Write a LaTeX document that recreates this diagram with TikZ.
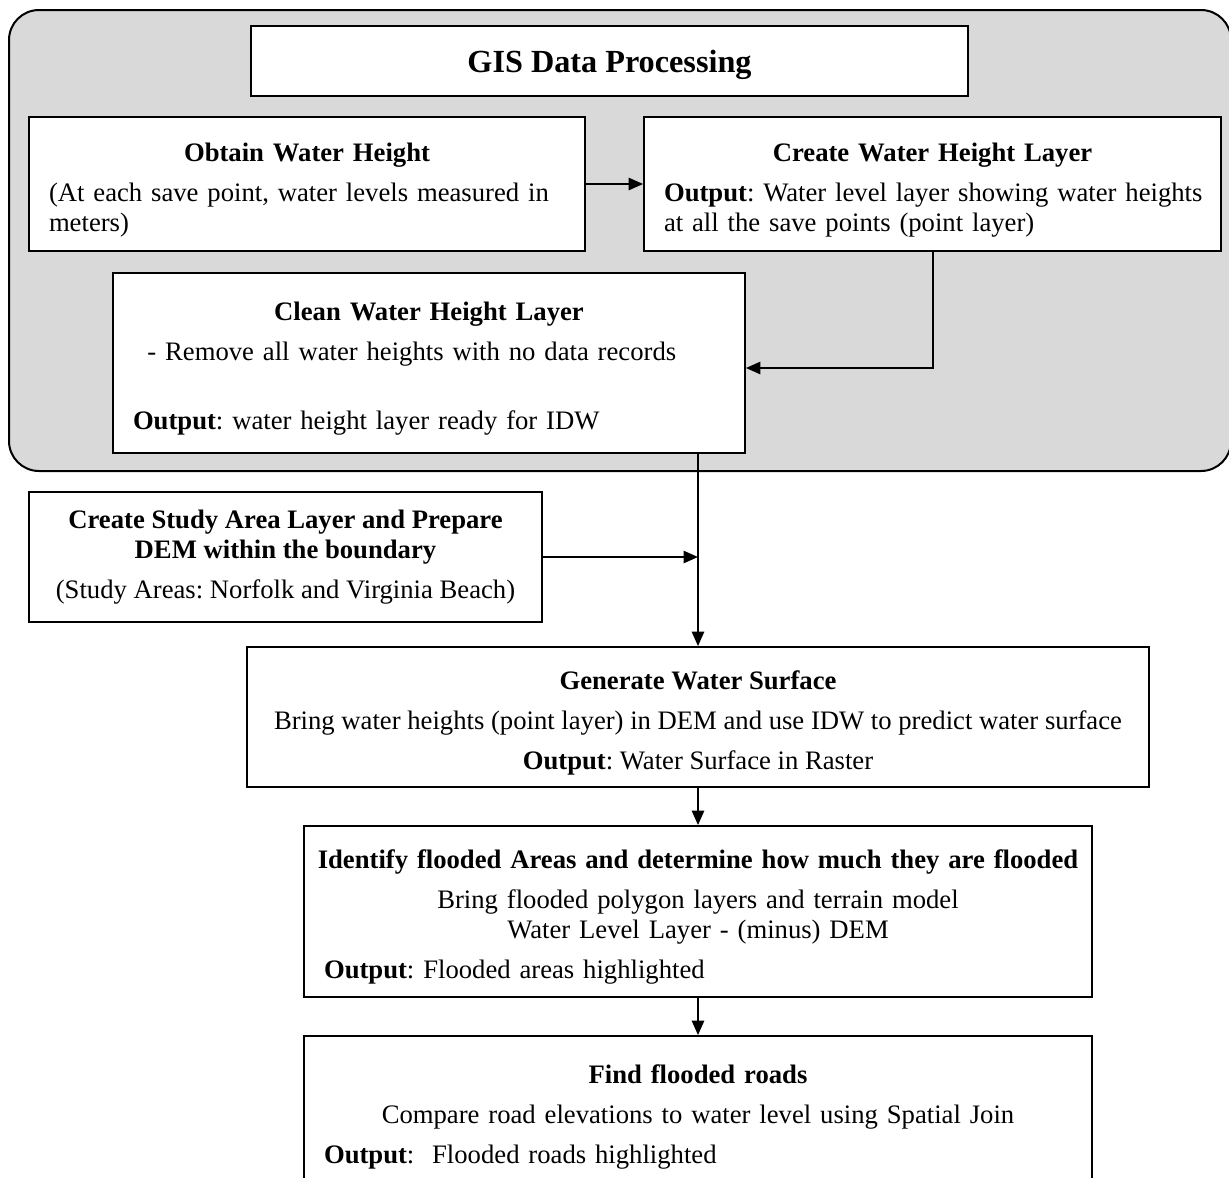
\documentclass[tikz,border=0pt]{standalone}
\usepackage{fontspec}
\setmainfont{Liberation Serif}
\usepackage{xcolor}
\usepackage{tikz}
\usetikzlibrary{arrows.meta, positioning, calc}
\definecolor{panelgray}{RGB}{217,217,217}
\newcommand{\pxu}{0.45pt}
\newcommand{\tstrut}{\rule{0pt}{13.5pt}}
\newcommand{\ctrtxt}[1]{\makebox[\linewidth][c]{#1}}
\newcommand{\lfttxt}[1]{\makebox[\linewidth][l]{#1}}

\begin{document}
\frenchspacing
\begin{tikzpicture}[x=0.45pt,y=-0.45pt]
\tikzset{
  bx/.style={rectangle,draw=black,line width=0.8pt,fill=white,inner xsep=9pt,inner ysep=0pt,align=left,font=\fontsize{12}{13.5}\selectfont},
  bw/.style={minimum width=#1*\pxu,text width=#1*\pxu-18pt},
  bc/.style={align=center,minimum width=#1*\pxu},
  ar/.style={-{Triangle[length=6.5pt,width=5.5pt]},line width=0.9pt,draw=black}
}
\path[use as bounding box,clip] (0,0) rectangle (1229,1177);
% GIS panel
\node[draw=black,line width=0.9pt,fill=panelgray,rounded corners=13.5pt,inner sep=0pt,minimum width=1222*\pxu,minimum height=461*\pxu] (panel) at (620,240.5) {};
\node[bx,bc=717,minimum height=70*\pxu,font=\fontsize{14.5}{17}\selectfont\bfseries] (gis) at (609.5,61) {\tstrut GIS Data Processing};
\node[bx,bw=556,minimum height=134*\pxu] (obtain) at (307,184) {\ctrtxt{\tstrut\textbf{Obtain Water Height}}\\[4.5pt]\lfttxt{(At each save point, water levels measured in}\\\lfttxt{meters)}};
\node[bx,bw=577,minimum height=134*\pxu] (create) at (932.5,184) {\ctrtxt{\tstrut\textbf{Create Water Height Layer}}\\[4.5pt]\lfttxt{\textbf{Output}: Water level layer showing water heights}\\\lfttxt{at all the save points (point layer)}};
\node[bx,bw=632,minimum height=180*\pxu] (clean) at (429,363) {\ctrtxt{\tstrut\textbf{Clean Water Height Layer}}\\[4.5pt]\lfttxt{\hspace*{6.5pt}- Remove all water heights with no data records}\\[17.5pt]\lfttxt{\textbf{Output}: water height layer ready for IDW}};
\draw[ar] (obtain) -- (create);
\draw[ar] (create.south) |- ([yshift=-2.25pt]clean.east);
% below the panel
\node[bx,bc=513,minimum height=130*\pxu] (study) at (285.5,557) {\textbf{Create Study Area Layer and Prepare}\\\textbf{DEM within the boundary}\\[4.5pt](Study Areas: Norfolk and Virginia Beach)};
\node[bx,bc=902,minimum height=140*\pxu] (generate) at (698,717) {\tstrut\textbf{Generate Water Surface}\\[4.5pt]Bring water heights (point layer) in DEM and use IDW to predict water surface\\[4.5pt]\textbf{Output}: Water Surface in Raster};
\node[bx,bw=788,minimum height=171*\pxu] (identify) at (698,911.5) {\ctrtxt{\tstrut\textbf{Identify flooded Areas and determine how much they are flooded}}\\[4.5pt]\ctrtxt{Bring flooded polygon layers and terrain model}\\\ctrtxt{Water Level Layer - (minus) DEM}\\[4.5pt]\lfttxt{\textbf{Output}: Flooded areas highlighted}};
\node[bx,bw=788,minimum height=150*\pxu] (find) at (698,1111) {\ctrtxt{\tstrut\textbf{Find flooded roads}}\\[4.5pt]\ctrtxt{Compare road elevations to water level using Spatial Join}\\[4.5pt]\lfttxt{\textbf{Output}:~ Flooded roads highlighted}};
\draw[ar] (clean.south -| generate.north) -- (generate.north);
\draw[ar] (study.east) -- (study.east -| generate.north);
\draw[ar] (generate) -- (identify);
\draw[ar] (identify) -- (find);
\end{tikzpicture}
\end{document}
